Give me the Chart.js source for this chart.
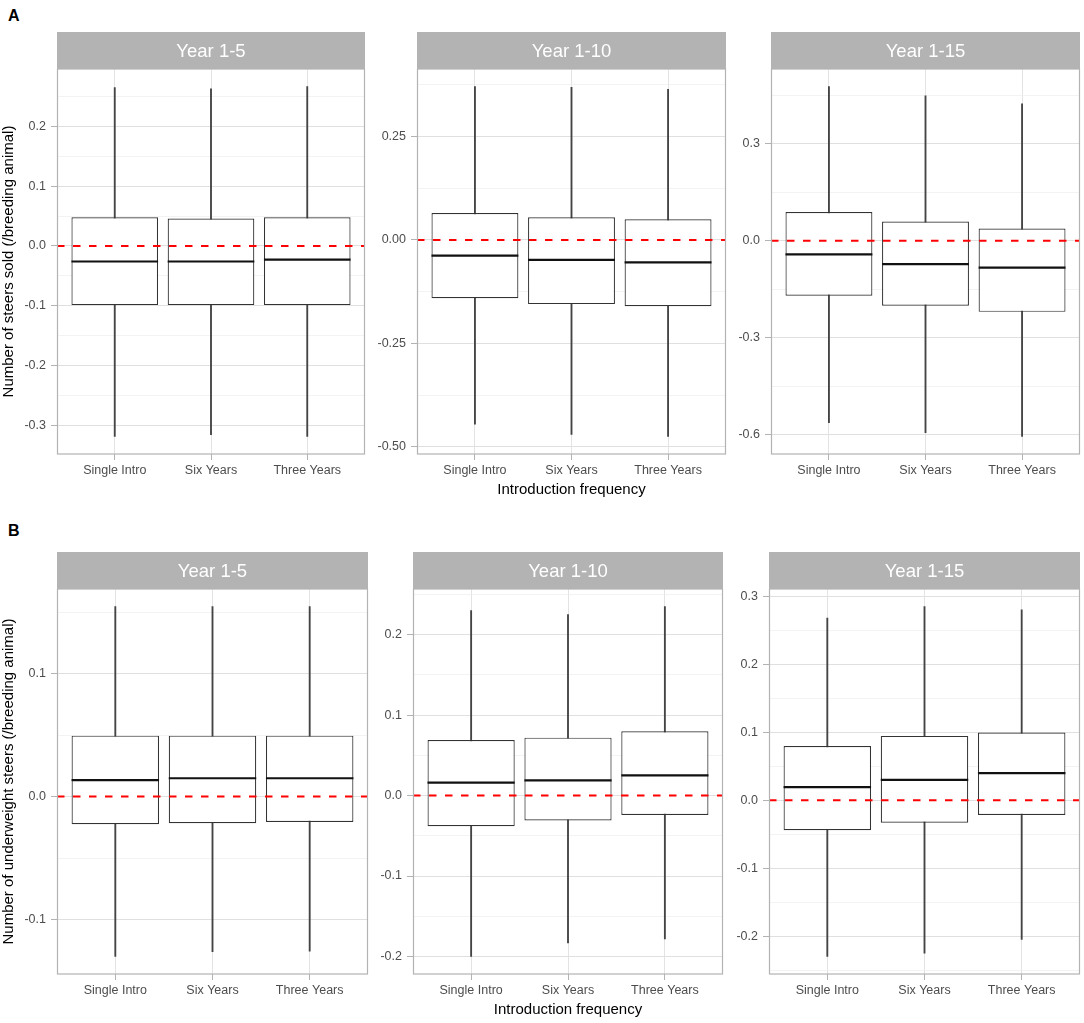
<!DOCTYPE html>
<html>
<head>
<meta charset="utf-8">
<script src="https://cdn.jsdelivr.net/npm/chart.js@4.4.0/dist/chart.umd.min.js"></script>
<style>
  body { margin: 0; background: #fff; }
  #fig { position: relative; width: 1084px; height: 1023px; font-family: "Liberation Sans", Arial, sans-serif; }
  #fig canvas { position: absolute; }
  .tag { position: absolute; left: 8px; font-weight: bold; font-size: 16px; line-height: 16px; color: #000; }
</style>
</head>
<body>
<div id="fig">
  <div class="tag" style="top:8px">A</div>
  <div class="tag" style="top:523px">B</div>
</div>
<script>
const groups = ["Single Intro", "Six Years", "Three Years"];
const periods = ["Year 1-5", "Year 1-10", "Year 1-15"];
const refValue = 0;

// A: steers sold, one inner array per period, values per group
const soldMax = [[0.265, 0.263, 0.267], [0.371, 0.369, 0.364], [0.478, 0.449, 0.424]];
const soldQ3  = [[0.048, 0.046, 0.048], [0.065, 0.055, 0.050], [0.089, 0.060, 0.038]];
const soldMed = [[-0.026, -0.026, -0.023], [-0.038, -0.048, -0.054], [-0.042, -0.072, -0.083]];
const soldQ1  = [[-0.099, -0.099, -0.099], [-0.141, -0.155, -0.160], [-0.170, -0.201, -0.220]];
const soldMin = [[-0.319, -0.316, -0.319], [-0.445, -0.470, -0.475], [-0.563, -0.594, -0.606]];
const soldSteps = [0.1, 0.25, 0.3];

// B: underweight steers
const underMax = [[0.1545, 0.1545, 0.1545], [0.230, 0.225, 0.235], [0.2685, 0.2856, 0.2807]];
const underQ3  = [[0.0495, 0.0495, 0.0495], [0.069, 0.072, 0.080], [0.080, 0.095, 0.100]];
const underMed = [[0.0133, 0.0149, 0.0149], [0.016, 0.019, 0.025], [0.0196, 0.0303, 0.040]];
const underQ1  = [[-0.0225, -0.0217, -0.0206], [-0.038, -0.031, -0.024], [-0.044, -0.033, -0.0215]];
const underMin = [[-0.130, -0.126, -0.1256], [-0.200, -0.183, -0.178], [-0.230, -0.225, -0.205]];
const underSteps = [0.1, 0.1, 0.1];

const STRIP_H = 37;
const rows = [
  { yTitle: "Number of steers sold (/breeding animal)",
    hi: soldMax, q3: soldQ3, med: soldMed, q1: soldQ1, lo: soldMin, steps: soldSteps,
    top: 69, bottom: 454, cols: [[57, 365], [417, 726], [771, 1080]] },
  { yTitle: "Number of underweight steers (/breeding animal)",
    hi: underMax, q3: underQ3, med: underMed, q1: underQ1, lo: underMin, steps: underSteps,
    top: 589, bottom: 974, cols: [[57, 368], [413, 723], [769, 1080]] }
];

Chart.defaults.font.family = '"Liberation Sans", Arial, sans-serif';

const zeroLine = {
  id: "zeroLine",
  afterDatasetsDraw(chart) {
    const { ctx, chartArea: a, scales: { y } } = chart;
    const py = y.getPixelForValue(refValue);
    ctx.save();
    ctx.strokeStyle = "#FF0000";
    ctx.lineWidth = 2;
    ctx.setLineDash([7.5, 8.5]);
    ctx.beginPath();
    ctx.moveTo(a.left, py);
    ctx.lineTo(a.right, py);
    ctx.stroke();
    ctx.restore();
  }
};

const strip = {
  id: "strip",
  afterDraw(chart, args, opts) {
    const { ctx, chartArea: a } = chart;
    ctx.save();
    ctx.fillStyle = "#B3B3B3";
    ctx.fillRect(a.left, a.top - STRIP_H, a.right - a.left, STRIP_H);
    ctx.fillStyle = "#fff";
    ctx.font = '18.5px "Liberation Sans", Arial, sans-serif';
    ctx.textAlign = "center";
    ctx.textBaseline = "middle";
    ctx.fillText(opts.text, (a.left + a.right) / 2, a.top - STRIP_H / 2 + 1);
    ctx.strokeStyle = "#B3B3B3";
    ctx.lineWidth = 1.2;
    ctx.strokeRect(a.left + 0.5, a.top, a.right - a.left - 1, a.bottom - a.top);
    ctx.restore();
  }
};

const fig = document.getElementById("fig");

function makePanel(row, p) {
  const [L, R] = row.cols[p];
  const first = p === 0, middle = p === 1;
  const axisW = first ? L : 45;
  const axisH = middle ? 46 : 28;
  const w = R - L + axisW + 2;
  const h = row.bottom - row.top + STRIP_H + axisH;
  const canvas = document.createElement("canvas");
  canvas.width = w; canvas.height = h;
  canvas.style.left = (L - axisW) + "px";
  canvas.style.top = (row.top - STRIP_H) + "px";
  canvas.style.width = w + "px";
  canvas.style.height = h + "px";
  fig.appendChild(canvas);

  const lo = row.lo[p], hi = row.hi[p];
  const dMin = Math.min(...lo), dMax = Math.max(...hi);
  const pad = (dMax - dMin) * 0.05;
  const major = row.steps[p], minor = major / 2;
  const dec = (String(major).split(".")[1] || "").length;
  const isMajor = (v) => Math.abs(v / major - Math.round(v / major)) < 1e-6;
  const xs = groups.map((g, i) => i + 1);
  const halfBox = (c) => {
    const s = c.chart.scales.x;
    return Math.abs(s.getPixelForValue(1) - s.getPixelForValue(0)) * 0.45;
  };

  new Chart(canvas, {
    type: "bar",
    data: {
      datasets: [
        {
          type: "line", label: "median",
          data: xs.map((x, i) => ({ x, y: row.med[p][i] })),
          showLine: false, pointStyle: "line",
          pointRadius: halfBox, pointBorderWidth: 2.2, pointBorderColor: "#111",
          order: 1
        },
        {
          label: "box",
          data: xs.map((x, i) => ({ x, y: [row.q1[p][i], row.q3[p][i]] })),
          backgroundColor: "#fff", borderColor: "#333", borderWidth: 1.2,
          borderSkipped: false, barPercentage: 0.9, categoryPercentage: 1,
          grouped: false, order: 2
        },
        {
          label: "whisker",
          data: xs.map((x, i) => ({ x, y: [lo[i], hi[i]] })),
          backgroundColor: "#444", barThickness: 1.2, grouped: false, order: 3
        }
      ]
    },
    options: {
      responsive: false,
      animation: false,
      events: [],
      layout: { padding: { top: STRIP_H, right: 2, left: 0, bottom: 0 } },
      plugins: {
        legend: { display: false },
        tooltip: { enabled: false },
        strip: { text: periods[p] }
      },
      scales: {
        x: {
          type: "linear", min: 0.4, max: 3.6, offset: false,
          afterBuildTicks: (s) => { s.ticks = xs.map((v) => ({ value: v })); },
          afterFit: (s) => { s.height = axisH; },
          ticks: {
            callback: (v) => groups[Math.round(v) - 1],
            color: "#4D4D4D", font: { size: 12.5 }, padding: 3,
            maxRotation: 0, autoSkip: false
          },
          grid: { offset: false, color: "#E3E3E3", lineWidth: 1, tickLength: 6, tickColor: "#B3B3B3" },
          border: { display: false },
          title: {
            display: middle, text: "Introduction frequency",
            color: "#000", font: { size: 15 }, padding: { top: 0, bottom: 1 }
          }
        },
        y: {
          type: "linear", min: dMin - pad, max: dMax + pad, beginAtZero: false,
          afterBuildTicks: (s) => {
            const t = [];
            for (let k = Math.ceil(s.min / minor - 1e-9); k * minor <= s.max + 1e-12; k++) {
              t.push({ value: Math.round(k * minor * 1e9) / 1e9 });
            }
            s.ticks = t;
          },
          afterFit: (s) => { s.width = axisW; },
          ticks: {
            callback: (v) => isMajor(v) ? v.toFixed(dec) : "",
            color: "#4D4D4D", font: { size: 12.5 }, padding: 5, autoSkip: false
          },
          grid: {
            color: (c) => isMajor(c.tick.value) ? "#E0E0E0" : "#EBEBEB",
            lineWidth: (c) => isMajor(c.tick.value) ? 1 : 0.6,
            tickLength: 6,
            tickColor: (c) => isMajor(c.tick.value) ? "#B3B3B3" : "rgba(0,0,0,0)"
          },
          border: { display: false },
          title: {
            display: first, text: row.yTitle,
            color: "#000", font: { size: 15 }, padding: { top: 0, bottom: 0 }
          }
        }
      }
    },
    plugins: [zeroLine, strip]
  });
}

rows.forEach((row) => periods.forEach((_, p) => makePanel(row, p)));
</script>
</body>
</html>
